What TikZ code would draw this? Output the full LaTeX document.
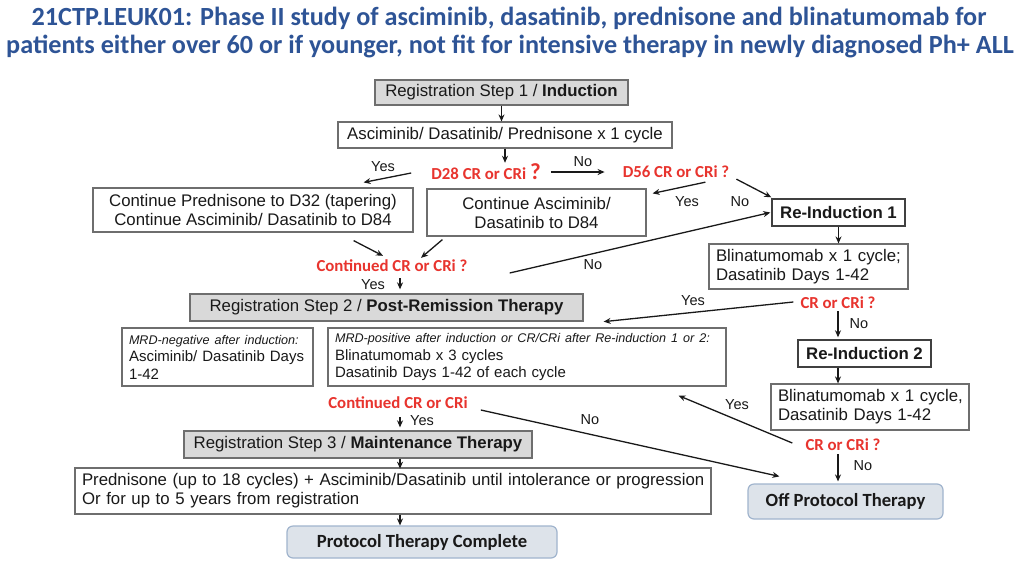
\documentclass[tikz,border=0pt]{standalone}
\usepackage{fontspec}
\setmainfont{Liberation Sans}
\newfontfamily\calib{Carlito}
\usetikzlibrary{arrows.meta,calc}
\definecolor{ttl}{RGB}{46,84,150}
\definecolor{rd}{RGB}{232,52,46}
\definecolor{gfill}{RGB}{217,217,217}
\definecolor{gline}{RGB}{110,110,110}
\definecolor{bfill}{RGB}{221,227,234}
\definecolor{bline}{RGB}{160,180,205}
\definecolor{txt}{RGB}{25,25,25}
\newcommand\smit{\itshape\fontsize{12.6}{15}\selectfont}
\begin{document}
\begin{tikzpicture}[x=1pt,y=-1pt,
 every node/.style={text=txt},
 base/.style={font=\fontsize{16.8}{19}\selectfont, inner sep=0pt, align=center},
 gbox/.style={base, draw=gline, fill=gfill, line width=1.3pt},
 wbox/.style={base, draw=gline, fill=white, line width=1.2pt},
 lbox/.style={wbox, align=left, inner xsep=7pt},
 dbox/.style={base, draw=black!75, fill=white, line width=1.4pt, font=\fontsize{16.8}{19}\selectfont\bfseries},
 rbox/.style={base, draw=bline, fill=bfill, line width=1.2pt, rounded corners=6pt, font=\calib\bfseries\fontsize{18.6}{21}\selectfont},
 lab/.style={text=rd, font=\calib\bfseries\fontsize{16.8}{19}\selectfont, inner sep=0pt},
 yn/.style={font=\fontsize{14.5}{16}\selectfont, inner sep=0pt},
 ttlfont/.style={font=\calib\bfseries\fontsize{26.2}{30}\selectfont, text=ttl, inner sep=0pt},
 arr/.style={-{Stealth[length=7pt,width=6pt]}, line width=1.3pt, draw=txt},
]
\useasboundingbox[fill=white] (0,0) rectangle (1024,576);

% title
\node[ttlfont] (t1) at (509,18) {21CTP.LEUK01: Phase II study of asciminib, dasatinib, prednisone and blinatumomab for};
\node[ttlfont] (t2) at (510,47) {patients either over 60 or if younger, not fit for intensive therapy in newly diagnosed Ph+ ALL};

% boxes
\node[gbox, minimum width=253pt, minimum height=25pt] (B1) at (501.5,92.5) {Registration Step 1 / \textbf{Induction}};
\node[wbox, minimum width=334pt, minimum height=26pt] (B2) at (505,135) {Asciminib/ Dasatinib/ Prednisone x 1 cycle};
\node[lab] (D28) at (486,172) {D28 CR or CRi {\fontsize{23}{23}\selectfont ?}};
\node[lab] (D56) at (676,172) {D56 CR or CRi ?};
\node[wbox, minimum width=320pt, minimum height=44pt] (L) at (253,210) {Continue Prednisone to D32 (tapering)\\Continue Asciminib/ Dasatinib to D84};
\node[wbox, minimum width=219pt, minimum height=47pt] (M) at (536.5,212.5) {Continue Asciminib/\\Dasatinib to D84};
\node[dbox, minimum width=133pt, minimum height=27pt] (RI1) at (838.5,212.5) {Re-Induction 1};
\node[lbox, text width=185pt, minimum height=45pt] (BL1) at (808.5,266.5) {\mbox{Blinatumomab x 1 cycle;}\\\mbox{Dasatinib Days 1-42}};
\node[lab] (CC1) at (392,266) {Continued CR or CRi ?};
\node[gbox, minimum width=393pt, minimum height=27pt] (R2) at (386.5,307.5) {Registration Step 2 / \textbf{Post-Remission Therapy}};
\node[lbox, text width=177pt, minimum height=58pt, font=\fontsize{15}{17.5}\selectfont] (MN) at (217.5,357) {\mbox{\smit MRD-negative after induction:}\\\mbox{Asciminib/ Dasatinib Days}\\1-42};
\node[lbox, text width=384pt, minimum height=58pt, font=\fontsize{15}{17.5}\selectfont] (MP) at (527,357) {\mbox{\smit MRD-positive after induction or CR/CRi after Re-induction 1 or 2:}\\\mbox{Blinatumomab x 3 cycles}\\\mbox{Dasatinib Days 1-42 of each cycle}};
\node[lab] (CR1) at (838,303) {CR or CRi ?};
\node[dbox, minimum width=133pt, minimum height=27pt] (RI2) at (864.5,353.5) {Re-Induction 2};
\node[lbox, text width=184pt, minimum height=46pt] (BL2) at (870,407) {\mbox{Blinatumomab x 1 cycle,}\\\mbox{Dasatinib Days 1-42}};
\node[lab] (CR2) at (843,445) {CR or CRi ?};
\node[rbox, minimum width=195pt, minimum height=35pt] (Off) at (845.5,501.5) {Off Protocol Therapy};
\node[lab] (CC2) at (398,403) {Continued CR or CRi};
\node[gbox, minimum width=348pt, minimum height=27pt] (R3) at (358,444.5) {Registration Step 3 / \textbf{Maintenance Therapy}};
\node[lbox, text width=622pt, minimum height=46pt] (P) at (393,491) {\mbox{Prednisone (up to 18 cycles) + Asciminib/Dasatinib until intolerance or progression}\\\mbox{Or for up to 5 years from registration}};
\node[rbox, minimum width=270pt, minimum height=32pt] (PTC) at (422,542) {Protocol Therapy Complete};

% connectors
\draw[arr] (B1.south) -- (B1.south |- B2.north);
\draw[arr] (B2.south) -- ($(B2.south |- D28.north)+(0,-1)$);
\draw[arr] ($(D28.east)+(10,0)$) -- ($(D56.west)+(-18,0)$);
\node[yn] (n1) at (583,162) {No};
\draw[arr] ($(D28.west)+(-20,1)$) -- ($(L.north east)+(-50,-5)$);
\node[yn] (y1) at (383,167) {Yes};
\draw[arr] ($(D56.south east)+(-24,4)$) -- ($(M.north east)+(6,5)$);
\node[yn] (y2) at (687,202) {Yes};
\draw[arr] ($(D56.south east)+(7,1)$) -- ($(RI1.north west)+(0,-1)$);
\node[yn] (n2) at (740,202) {No};
\draw[arr] ($(L.south east)+(-60,8)$) -- ($(CC1.north)+(-9,-4)$);
\draw[arr] ($(M.south west)+(16,3)$) -- ($(CC1.north)+(29,-2)$);
\draw[arr] ($(CC1.east)+(42,7)$) -- ($(RI1.west)+(-1,0)$);
\node[yn] (n3) at (593,265) {No};
\draw[arr] (RI1.south) -- (RI1.south |- BL1.north);
\draw[arr] ($(R2.north)+(13.5,-15)$) -- ($(R2.north)+(13.5,-4)$);
\node[yn] (y3) at (373,285) {Yes};
\draw[arr] ($(CR1.west)+(-7,-1)$) -- ($(R2.south east)+(20,0)$);
\node[yn] (y4) at (693,301) {Yes};
\draw[arr] ($(CR1.south)+(0,2)$) -- ($(CR1.south |- RI2.north)+(0,-2)$);
\node[yn] (n4) at (859,324) {No};
\draw[arr] (CR1.south |- RI2.south) -- (CR1.south |- BL2.north);
\draw[arr] ($(CR2.west)+(-13,-2)$) -- ($(MP.south east)+(-48,9)$);
\node[yn] (y5) at (737,405) {Yes};
\draw[arr] ($(CR2.south)+(-5,3)$) -- ($(CR2.south |- Off.north)+(-5,-2)$);
\node[yn] (n5) at (863,466) {No};
\draw[arr] ($(CC2.east)+(13,7)$) -- ($(Off.north west)+(32,-7)$);
\node[yn] (n6) at (590,420) {No};
\draw[arr] ($(R3.north)+(42,-13)$) -- ($(R3.north)+(42,-3)$);
\node[yn] (y6) at (422,421) {Yes};
\draw[arr] ($(R3.south)+(42,0)$) -- ($(R3.south -| P.north)+(7,10)$);
\draw[arr] ($(P.south)+(7,0)$) -- ($(P.south |- PTC.north)+(7,0)$);
\end{tikzpicture}
\end{document}
